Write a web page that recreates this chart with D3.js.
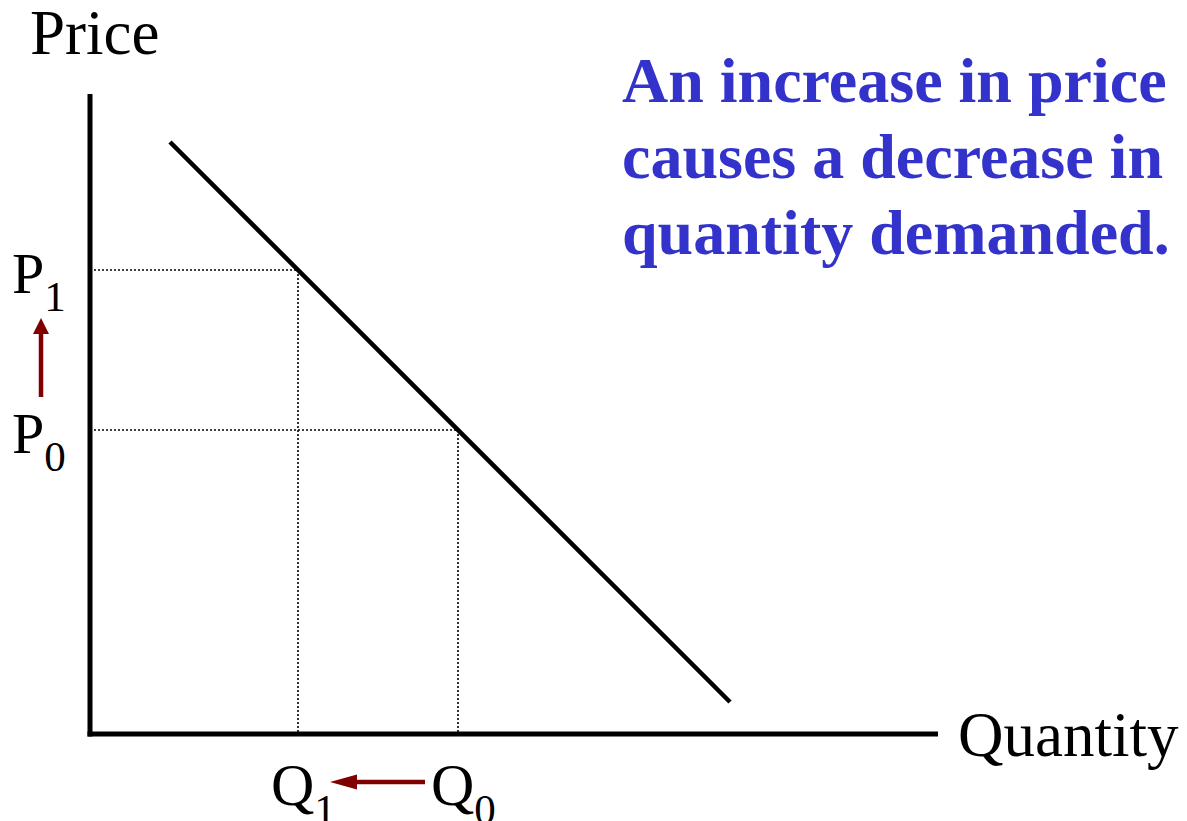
<!DOCTYPE html>
<html>
<head>
<meta charset="utf-8">
<script src="https://cdn.jsdelivr.net/npm/d3@7"></script>
<style>
  html, body { margin: 0; padding: 0; background: #fff; }
  svg { display: block; }
</style>
</head>
<body>
<svg id="chart" width="1187" height="821"></svg>
<script>
// ---- data ----
const demandCurve = [ {q: 5, p: 37}, {q: 40, p: 2} ];
const equilibria = [ {q: 13, p: 29, sub: "1"}, {q: 23, p: 19, sub: "0"} ];
const quantityDomain = [0, 53];
const priceDomain = [0, 40];
const axisTitles = { x: "Quantity", y: "Price" };
const noteLines = ["An increase in price", "causes a decrease in", "quantity demanded."];

// ---- drawing ----
const svg = d3.select("#chart");
const serif = "'Liberation Serif', 'Times New Roman', Times, serif";
const x = d3.scaleLinear().domain(quantityDomain).range([90, 938]);
const y = d3.scaleLinear().domain(priceDomain).range([734, 94]);
const arrowColor = "#800000";

// dotted guide lines
equilibria.forEach(d => {
  svg.append("line")
    .attr("x1", x(0)).attr("x2", x(d.q))
    .attr("y1", y(d.p)).attr("y2", y(d.p))
    .attr("stroke", "#000").attr("stroke-width", 1.6)
    .attr("stroke-dasharray", "2,2");
  svg.append("line")
    .attr("x1", x(d.q)).attr("x2", x(d.q))
    .attr("y1", y(d.p)).attr("y2", y(0))
    .attr("stroke", "#000").attr("stroke-width", 1.6)
    .attr("stroke-dasharray", "2,2");
});

// axes
svg.append("line")
  .attr("x1", x(0)).attr("x2", x(0))
  .attr("y1", y(priceDomain[1])).attr("y2", y(0) + 2.5)
  .attr("stroke", "#000").attr("stroke-width", 5);
svg.append("line")
  .attr("x1", x(0) - 2.5).attr("x2", x(quantityDomain[1]))
  .attr("y1", y(0)).attr("y2", y(0))
  .attr("stroke", "#000").attr("stroke-width", 5);

// demand line
svg.append("path")
  .datum(demandCurve)
  .attr("d", d3.line().x(d => x(d.q)).y(d => y(d.p)))
  .attr("fill", "none").attr("stroke", "#000").attr("stroke-width", 4.5);

// axis titles
svg.append("text")
  .attr("x", 30).attr("y", 54)
  .attr("font-family", serif).attr("font-size", 63)
  .attr("fill", "#000").text(axisTitles.y);
svg.append("text")
  .attr("x", x(quantityDomain[1]) + 20).attr("y", 756)
  .attr("font-family", serif).attr("font-size", 63)
  .attr("fill", "#000").text(axisTitles.x);

// P labels
equilibria.forEach(d => {
  const t = svg.append("text")
    .attr("x", 12).attr("y", y(d.p) + 23)
    .attr("font-family", serif).attr("font-size", 58).attr("fill", "#000");
  t.append("tspan").text("P");
  t.append("tspan").attr("dy", 18).attr("font-size", 43).text(d.sub);
});

// Q labels
equilibria.forEach(d => {
  const t = svg.append("text")
    .attr("x", x(d.q) - 27).attr("y", 805)
    .attr("font-family", serif).attr("font-size", 60).attr("fill", "#000");
  t.append("tspan").text("Q");
  t.append("tspan").attr("dy", 19).attr("font-size", 43).text(d.sub);
});

// arrows
function arrow(x1, y1, x2, y2, headLen, headHalf, width) {
  const ang = Math.atan2(y2 - y1, x2 - x1);
  const bx = x2 - headLen * Math.cos(ang), by = y2 - headLen * Math.sin(ang);
  svg.append("line")
    .attr("x1", x1).attr("y1", y1).attr("x2", bx).attr("y2", by)
    .attr("stroke", arrowColor).attr("stroke-width", width);
  const px = -Math.sin(ang) * headHalf, py = Math.cos(ang) * headHalf;
  svg.append("path")
    .attr("d", `M${x2},${y2}L${bx + px},${by + py}L${bx - px},${by - py}Z`)
    .attr("fill", arrowColor);
}
const pLow = equilibria[1].p, pHigh = equilibria[0].p;
arrow(41, y(pLow) - 33, 41, y(pHigh) + 48, 16, 8, 4.5);
const qHigh = equilibria[1].q, qLow = equilibria[0].q;
arrow(x(qHigh) - 33, 782, x(qLow) + 32, 782, 27, 7.5, 4.5);

// note text
const note = svg.append("text")
  .attr("font-family", serif).attr("font-size", 64).attr("font-weight", "bold")
  .attr("fill", "#3333CC");
noteLines.forEach((line, i) => {
  note.append("tspan").attr("x", 622).attr("y", 102 + i * 76).text(line);
});
</script>
</body>
</html>
